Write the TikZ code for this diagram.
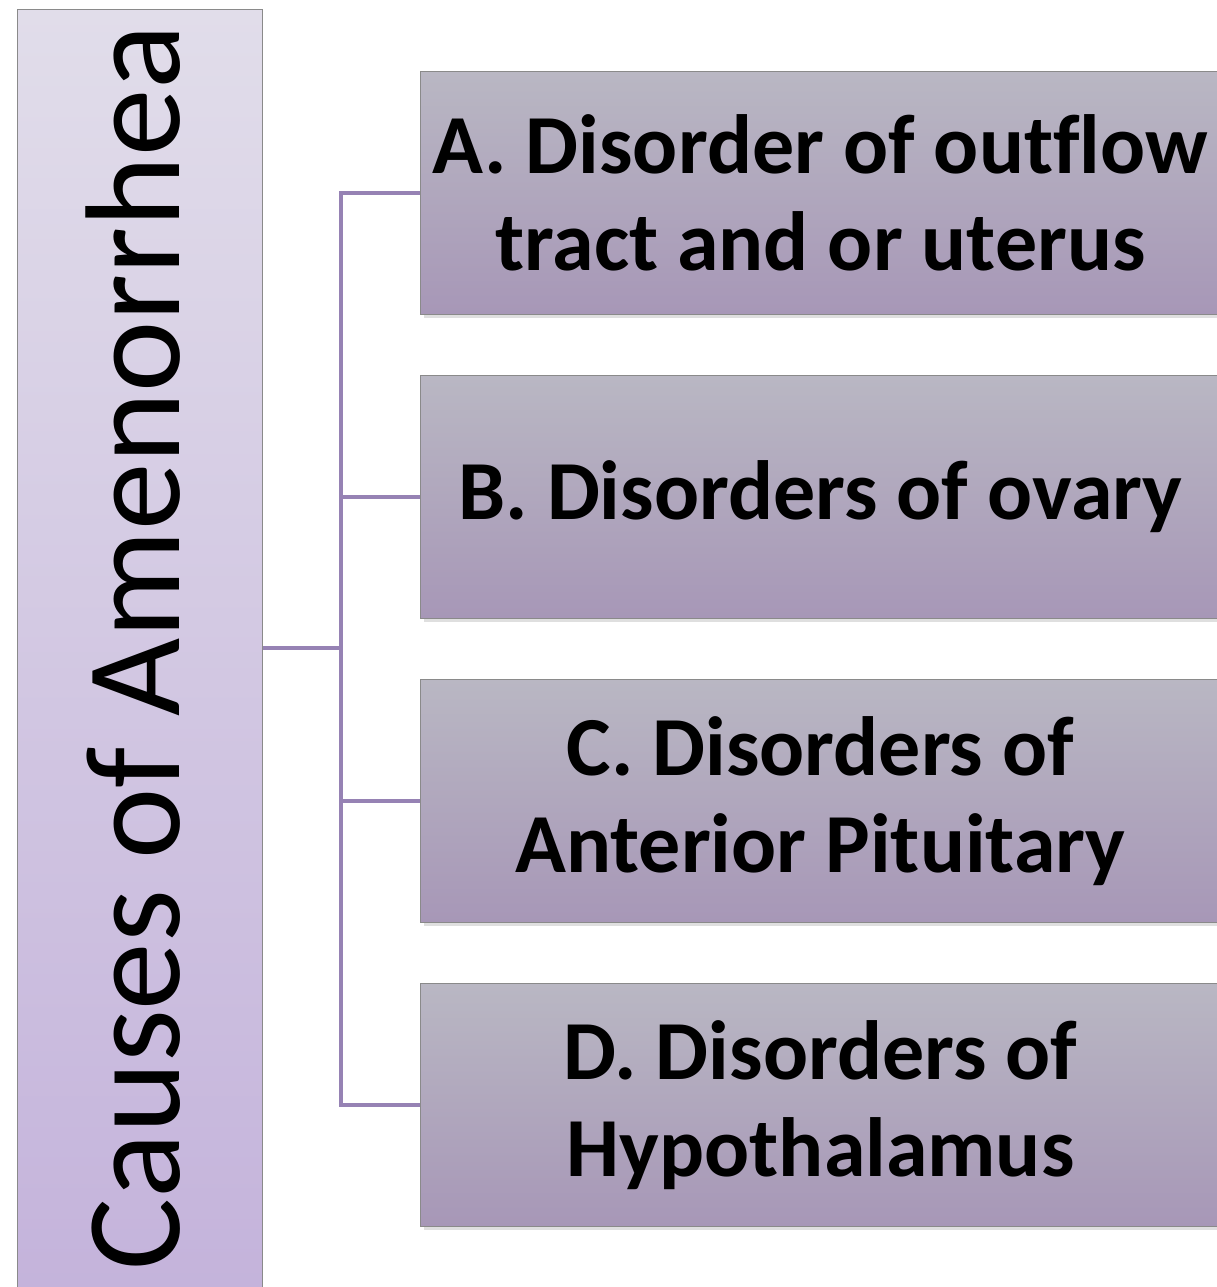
\documentclass[tikz,border=0pt]{standalone}
\usepackage{fontspec}
\setmainfont{Carlito}[Ligatures=NoCommon]
\usetikzlibrary{shadows}
\definecolor{rootTop}{HTML}{E1DDEA}
\definecolor{rootBot}{HTML}{C4B3DB}
\definecolor{boxTop}{HTML}{B9B7C3}
\definecolor{boxBot}{HTML}{A797B7}
\definecolor{edgeGray}{HTML}{8A8A8A}
\definecolor{connCol}{HTML}{9682B4}
\tikzset{
  rootbox/.style={draw=edgeGray, line width=1pt, top color=rootTop, bottom color=rootBot,
    minimum width=245pt, minimum height=1285pt, inner sep=0pt, anchor=north west},
  rootlabel/.style={rotate=90, anchor=base, inner sep=0pt, font=\fontsize{135}{160}\selectfont},
  catbox/.style={draw=edgeGray, line width=1pt, top color=boxTop, bottom color=boxBot,
    minimum width=800pt, minimum height=243pt, inner sep=0pt, anchor=north west,
    align=center, font=\bfseries\fontsize{84}{97}\selectfont,
    drop shadow={shadow xshift=3pt, shadow yshift=-4pt, opacity=0.25}},
  conn/.style={draw=connCol, line width=4.5pt}
}
\begin{document}
\begin{tikzpicture}[x=1pt,y=1pt]
\useasboundingbox (0,0) rectangle (1217,1287);
\clip (0,0) rectangle (1217,1287);
\fill[white] (0,0) rectangle (1217,1287);
\node[rootbox] (root) at (17,1278) {};
\node[rootlabel] (rootText) at (179,639.5) {Causes of Amenorrhea};
\coordinate (trunk) at (341,639);
\node[catbox] (A) at (420,1216) {A. Disorder of outf\kern0pt low\\tract and or uterus};
\node[catbox] (B) at (420,912) {B. Disorders of ovary};
\node[catbox] (C) at (420,608) {C. Disorders of\\Anterior Pituitary};
\node[catbox] (D) at (420,304) {D. Disorders of\\Hypothalamus};
\draw[conn] (root.east |- trunk) -- (trunk);
\draw[conn] (A.west) -| (D.west -| trunk) -- (D.west);
\draw[conn] (B.west) -- (B.west -| trunk);
\draw[conn] (C.west) -- (C.west -| trunk);
\end{tikzpicture}
\end{document}
